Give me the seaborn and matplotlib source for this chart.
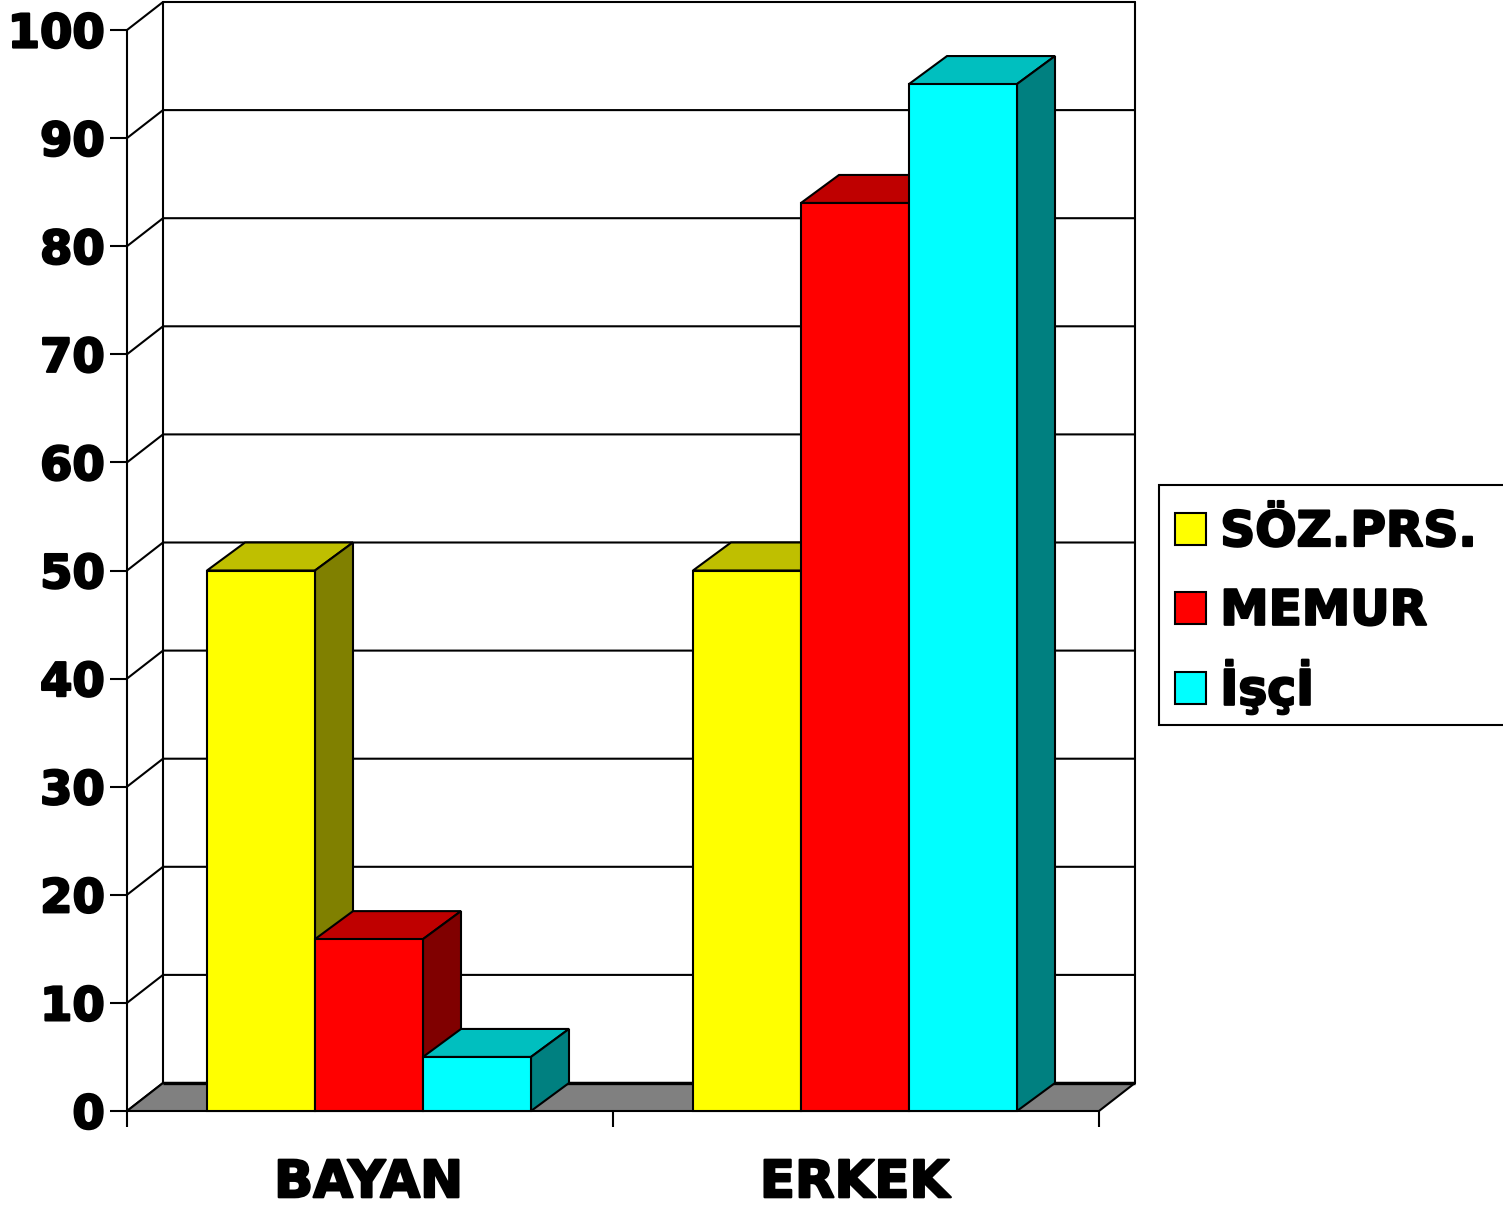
import matplotlib
matplotlib.use("Agg")
import matplotlib.pyplot as plt
import matplotlib.patheffects as pe
from matplotlib.patches import Polygon, Rectangle
from matplotlib.lines import Line2D
import seaborn as sns
import pandas as pd

groups = ["BAYAN", "ERKEK"]
series = ["SÖZ.PRS.", "MEMUR", "İşçİ"]
soz = [50, 50]
memur = [15.9, 84]
isci = [5, 95]
front = ["#FFFF00", "#FF0000", "#00FFFF"]
top = ["#BFBF00", "#BF0000", "#00BFBF"]
side = ["#808000", "#800000", "#008080"]
yticks = list(range(0, 101, 10))

W, H = 1503, 1207
sns.set_theme(style="white")
plt.rcParams["font.family"] = ["DejaVu Sans"]
plt.rcParams["font.weight"] = "bold"
heavy = [pe.withStroke(linewidth=1.6, foreground="black")]

df = pd.DataFrame({
    "group": groups * 3,
    "series": sum([[s] * 2 for s in series], []),
    "value": soz + memur + isci,
})

fig = plt.figure(figsize=(W / 100, H / 100), dpi=100, facecolor="white")
L, R, T0, Y100 = 127, 1099, 1111, 30
ax = fig.add_axes([L / W, 1 - T0 / H, (R - L) / W, (T0 - Y100) / H])
sns.barplot(data=df, x="group", y="value", hue="series", hue_order=series,
            palette=front, width=2 / 3, gap=0, dodge=True, ax=ax, legend=False,
            edgecolor="black", linewidth=1.5, saturation=1, zorder=5)
ax.set_xlim(-0.5, 1.5)
ax.set_ylim(0, 100)
ax.patch.set_alpha(0)
for s in ax.spines.values():
    s.set_visible(False)

px = (R - L) / 2
dx = 36 / px
bar_dx = 38 / px
dy = 28 / ((T0 - Y100) / 100)
x0, x1 = ax.get_xlim()
ytop = yticks[-1] + dy
lw = 1.5

# floor
ax.add_patch(Polygon([(x0, 0), (x1, 0), (x1 + dx, dy), (x0 + dx, dy)], closed=True,
                     fc="#808080", ec="black", lw=lw, clip_on=False, zorder=2))
ax.add_line(Line2D([x0 + dx, x1 + dx], [dy, dy], color="black", lw=2.4, clip_on=False, zorder=2.5,
                   solid_capstyle="butt"))
# walls and gridlines
for v in yticks:
    ax.add_line(Line2D([x0, x0 + dx, x1 + dx], [v, v + dy, v + dy], color="black", lw=lw,
                       clip_on=False, zorder=1))
ax.add_line(Line2D([x0, x0], [0, 100], color="black", lw=lw, clip_on=False, zorder=3))
ax.add_line(Line2D([x0 + dx, x0 + dx], [dy, ytop], color="black", lw=lw, clip_on=False, zorder=1))
ax.add_line(Line2D([x1 + dx, x1 + dx], [dy, ytop], color="black", lw=lw, clip_on=False, zorder=1))

# 3D faces built from the seaborn bars, left to right
bars = [p for p in ax.patches if isinstance(p, Rectangle) and p.get_height() > 0]
bars = sorted(enumerate(bars), key=lambda t: t[1].get_x())
for order, (i, b) in enumerate(bars):
    c = i // 2
    b.set_x(b.get_x() - 1 / px)
    xa, xb, h = b.get_x(), b.get_x() + b.get_width(), b.get_height()
    z = 5 + order
    b.set_zorder(z + 0.2)
    b.set_clip_on(False)
    ax.add_patch(Polygon([(xa, h), (xb, h), (xb + bar_dx, h + dy), (xa + bar_dx, h + dy)], closed=True,
                         fc=top[c], ec="black", lw=lw, clip_on=False, zorder=z))
    ax.add_patch(Polygon([(xb, 0), (xb, h), (xb + bar_dx, h + dy), (xb + bar_dx, dy)], closed=True,
                         fc=side[c], ec="black", lw=lw, clip_on=False, zorder=z))

ax.set_xticks([x0, (x0 + x1) / 2, x1])
ax.set_xticklabels([])
ax.set_yticks(yticks)
ax.set_yticklabels([str(v) for v in yticks], fontsize=33.5, fontweight="bold", color="black")
for t in ax.get_yticklabels():
    t.set_path_effects(heavy)
    t.set_y(t.get_position()[1])
ax.tick_params(axis="y", length=12, width=lw, color="black", left=True, pad=4)
ax.tick_params(axis="x", length=11.5, width=lw, color="black", bottom=True)
ax.set_xlabel("")
ax.set_ylabel("")
for k, g in enumerate(groups):
    ax.annotate(g, xy=(k, 0), xycoords=("data", "axes fraction"), xytext=(-1, -52),
                textcoords="offset points", ha="center", va="center", fontsize=37,
                fontweight="bold", color="black", annotation_clip=False, path_effects=heavy)

handles = [Rectangle((0, 0), 1, 1, fc=c, ec="black", lw=lw) for c in front]
leg = fig.legend(handles, series, loc="upper left", mode="expand",
                 bbox_to_anchor=(1159 / W, 1 - 725 / H, 360 / W, 240 / H),
                 bbox_transform=fig.transFigure,
                 fontsize=35, labelcolor="black", frameon=True, fancybox=False,
                 edgecolor="black", framealpha=1,
                 borderaxespad=0, borderpad=0.35, labelspacing=0.55,
                 handlelength=0.64, handleheight=0.64, handletextpad=0.27)
leg.get_frame().set_linewidth(lw)
row_shift_px = [6, 10, 7]
for t, p, s in zip(leg.get_texts(), leg.legend_handles, row_shift_px):
    t.set_path_effects(heavy)
    t.set_y(t.get_position()[1] - s)
    p.set_y(p.get_y() - s * 0.72)
    p.set_x(p.get_x() - 1 * 0.72)

fig.savefig("out.png", dpi=100)
